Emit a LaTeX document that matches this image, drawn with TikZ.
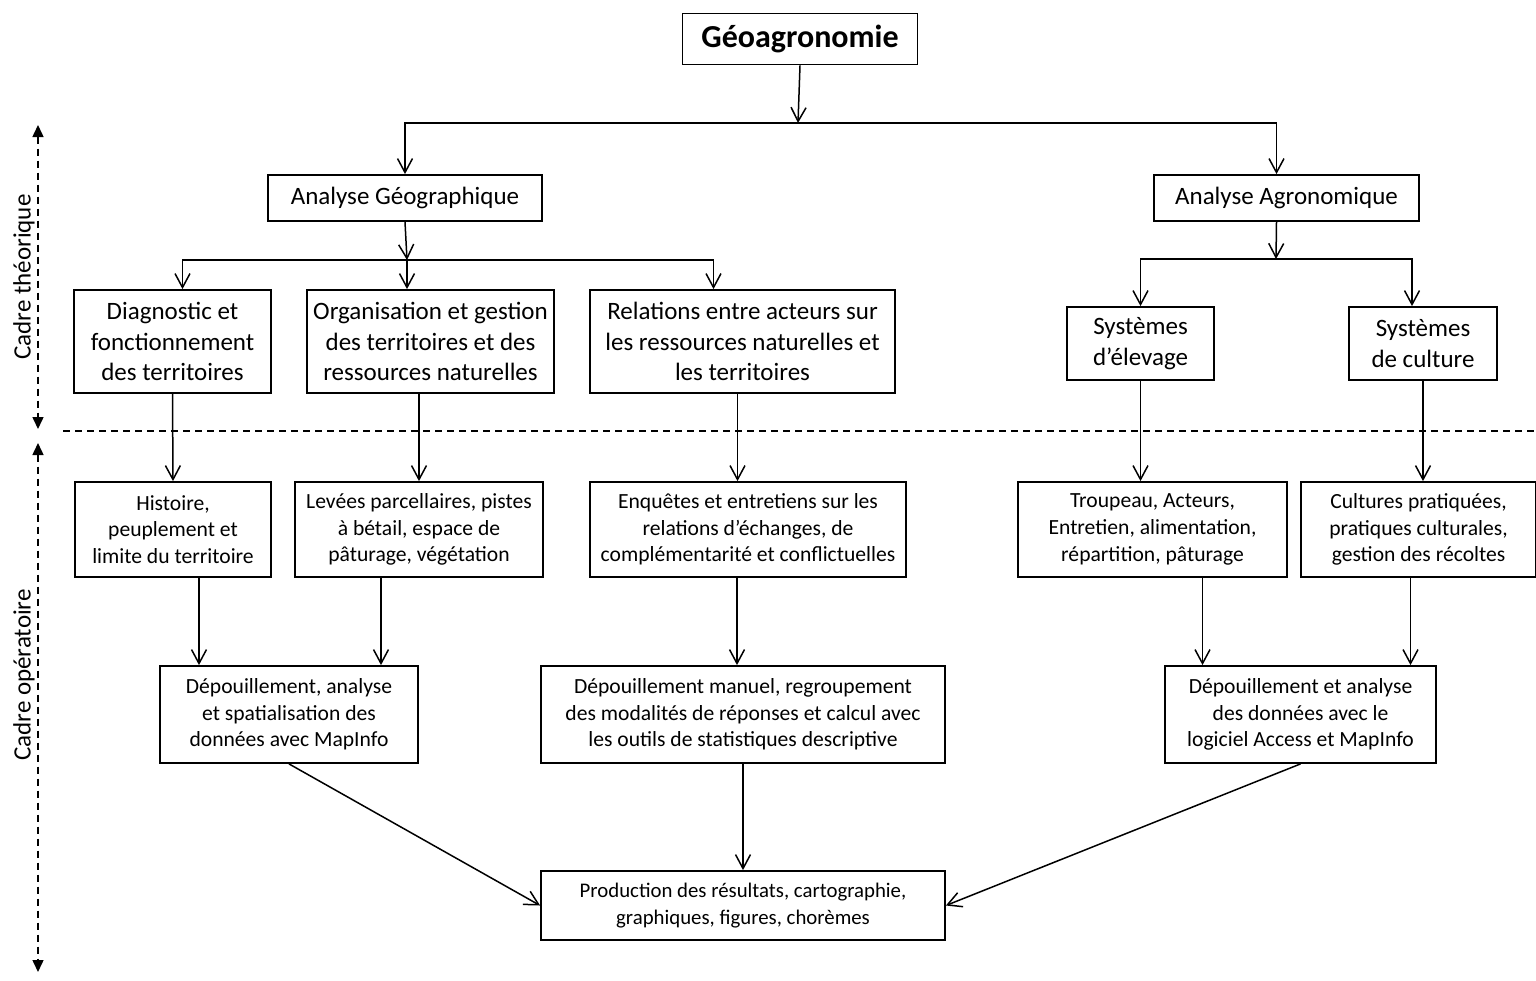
\documentclass[tikz,border=0pt]{standalone}
\usepackage{fontspec}
\setmainfont{Carlito}
\usetikzlibrary{arrows.meta}
\tikzset{
    box/.style={draw, line width=0.9pt, inner sep=0pt, align=center,
        font=\fontsize{12.5}{15.2}\selectfont},
    sbox/.style={box, font=\fontsize{10.8}{13.3}\selectfont},
    arr/.style={line width=0.75pt, -{Straight Barb[length=7pt,width=7.5pt]}},
    sep/.style={line width=0.75pt, dash pattern=on 3.5pt off 2.5pt},
    dbl/.style={sep, {Triangle[length=6pt,width=5.5pt]}-{Triangle[length=6pt,width=5.5pt]}},
    side/.style={rotate=90, font=\fontsize{12.5}{15}\selectfont},
}

\begin{document}
\begin{tikzpicture}[x=0.5pt,y=-0.5pt]
\useasboundingbox (0,0) rectangle (1536,980);

% cadre theorique
\node[box, minimum width=117.5pt, minimum height=25.5pt, font=\bfseries\fontsize{16}{19}\selectfont] (geo) at (800,39) {Géoagronomie};
\node[box, minimum width=137pt, minimum height=23pt] (ageo) at (405,198) {Analyse Géographique};
\node[box, minimum width=132.5pt, minimum height=23pt] (aagro) at (1286.5,198) {Analyse Agronomique};
\node[box, minimum width=98.5pt, minimum height=51.5pt] (diag) at (172.5,341.5) {Diagnostic et\\fonctionnement\\des territoires};
\node[box, minimum width=123.5pt, minimum height=51.5pt] (orga) at (430.5,341.5) {Organisation et gestion\\des territoires et des\\ressources naturelles};
\node[box, minimum width=152.5pt, minimum height=51.5pt] (rela) at (742.5,341.5) {Relations entre acteurs sur\\les ressources naturelles et\\les territoires};
\node[box, minimum width=73.5pt, minimum height=36.5pt] (elev) at (1140.5,343.5) {Systèmes\\d’élevage};
\node[box, minimum width=74pt, minimum height=36.5pt] (cult) at (1423,343.5) {Systèmes\\de culture};

% cadre operatoire
\node[sbox, minimum width=98pt, minimum height=47.5pt] (hist) at (173,529.5) {Histoire,\\peuplement et\\limite du territoire};
\node[sbox, minimum width=124pt, minimum height=47.5pt] (leve) at (419,529.5) {Levées parcellaires, pistes\\à bétail, espace de\\pâturage, végétation};
\node[sbox, minimum width=158pt, minimum height=47.5pt] (enqu) at (748,529.5) {Enquêtes et entretiens sur les\\relations d’échanges, de\\complémentarité et conflictuelles};
\node[sbox, minimum width=134.5pt, minimum height=47.5pt] (trou) at (1152.5,529.5) {Troupeau, Acteurs,\\Entretien, alimentation,\\répartition, pâturage};
\node[sbox, minimum width=117.5pt, minimum height=47.5pt] (cult2) at (1418.5,529.5) {Cultures pratiquées,\\pratiques culturales,\\gestion des récoltes};
\node[sbox, minimum width=129pt, minimum height=48.5pt] (dep1) at (289,714.5) {Dépouillement, analyse\\et spatialisation des\\données avec MapInfo};
\node[sbox, minimum width=202pt, minimum height=48.5pt] (dep2) at (743,714.5) {Dépouillement manuel, regroupement\\des modalités de réponses et calcul avec\\les outils de statistiques descriptive};
\node[sbox, minimum width=135.5pt, minimum height=48.5pt] (dep3) at (1300.5,714.5) {Dépouillement et analyse\\des données avec le\\logiciel Access et MapInfo};
\node[sbox, minimum width=202pt, minimum height=34.5pt, font=\fontsize{10.4}{13.3}\selectfont] (prod) at (743,905.5) {Production des résultats, cartographie,\\graphiques, figures, chorèmes};

% side labels
\node[side] (lth) at (24,277) {Cadre théorique};
\node[side] (lop) at (24,675) {Cadre opératoire};
\draw[dbl] (38,125) -- (38,429);
\draw[dbl] (38,443) -- (38,972);
\draw[sep] (63,431) -- (1536,431);

% branches
\coordinate (t1) at (798,123);
\coordinate (t2) at (407,260);
\coordinate (t3) at (1276,259);
\draw[arr] (geo.south) -- (t1);
\draw[arr] (t1) -| (ageo.north);
\draw[arr] (t1) -| ([xshift=-5pt]aagro.north);
\draw[arr] (ageo.south) -- (t2);
\draw[arr] (t2) -| ([xshift=5pt]diag.north);
\draw[arr] (t2) -- (t2 |- orga.north);
\draw[arr] (t2) -| ([xshift=-14.5pt]rela.north);
\draw[arr] ([xshift=-5pt]aagro.south) -- (t3);
\draw[arr] (t3) -| (elev.north);
\draw[arr] (t3) -| ([xshift=-5.5pt]cult.north);

\draw[arr] (diag.south) -- (hist.north);
\draw[arr] (orga.south -| leve.north) -- (leve.north);
\draw[arr] ([xshift=-2.5pt]rela.south) -- ([xshift=-2.5pt]rela.south |- enqu.north);
\draw[arr] (elev.south) -- (elev.south |- trou.north);
\draw[arr] (cult.south) -- (cult.south |- cult2.north);

\draw[arr] ([xshift=13pt]hist.south) -- ([xshift=13pt]hist.south |- dep1.north);
\draw[arr] ([xshift=-19pt]leve.south) -- ([xshift=-19pt]leve.south |- dep1.north);
\draw[arr] ([xshift=-3pt]dep2.north |- enqu.south) -- ([xshift=-3pt]dep2.north);
\draw[arr] ([xshift=25pt]trou.south) -- ([xshift=25pt]trou.south |- dep3.north);
\draw[arr] ([xshift=-4pt]cult2.south) -- ([xshift=-4pt]cult2.south |- dep3.north);

\draw[arr] (dep1.south) -- (prod.west);
\draw[arr] (dep2.south) -- (prod.north);
\draw[arr] (dep3.south) -- (prod.east);
\end{tikzpicture}
\end{document}
